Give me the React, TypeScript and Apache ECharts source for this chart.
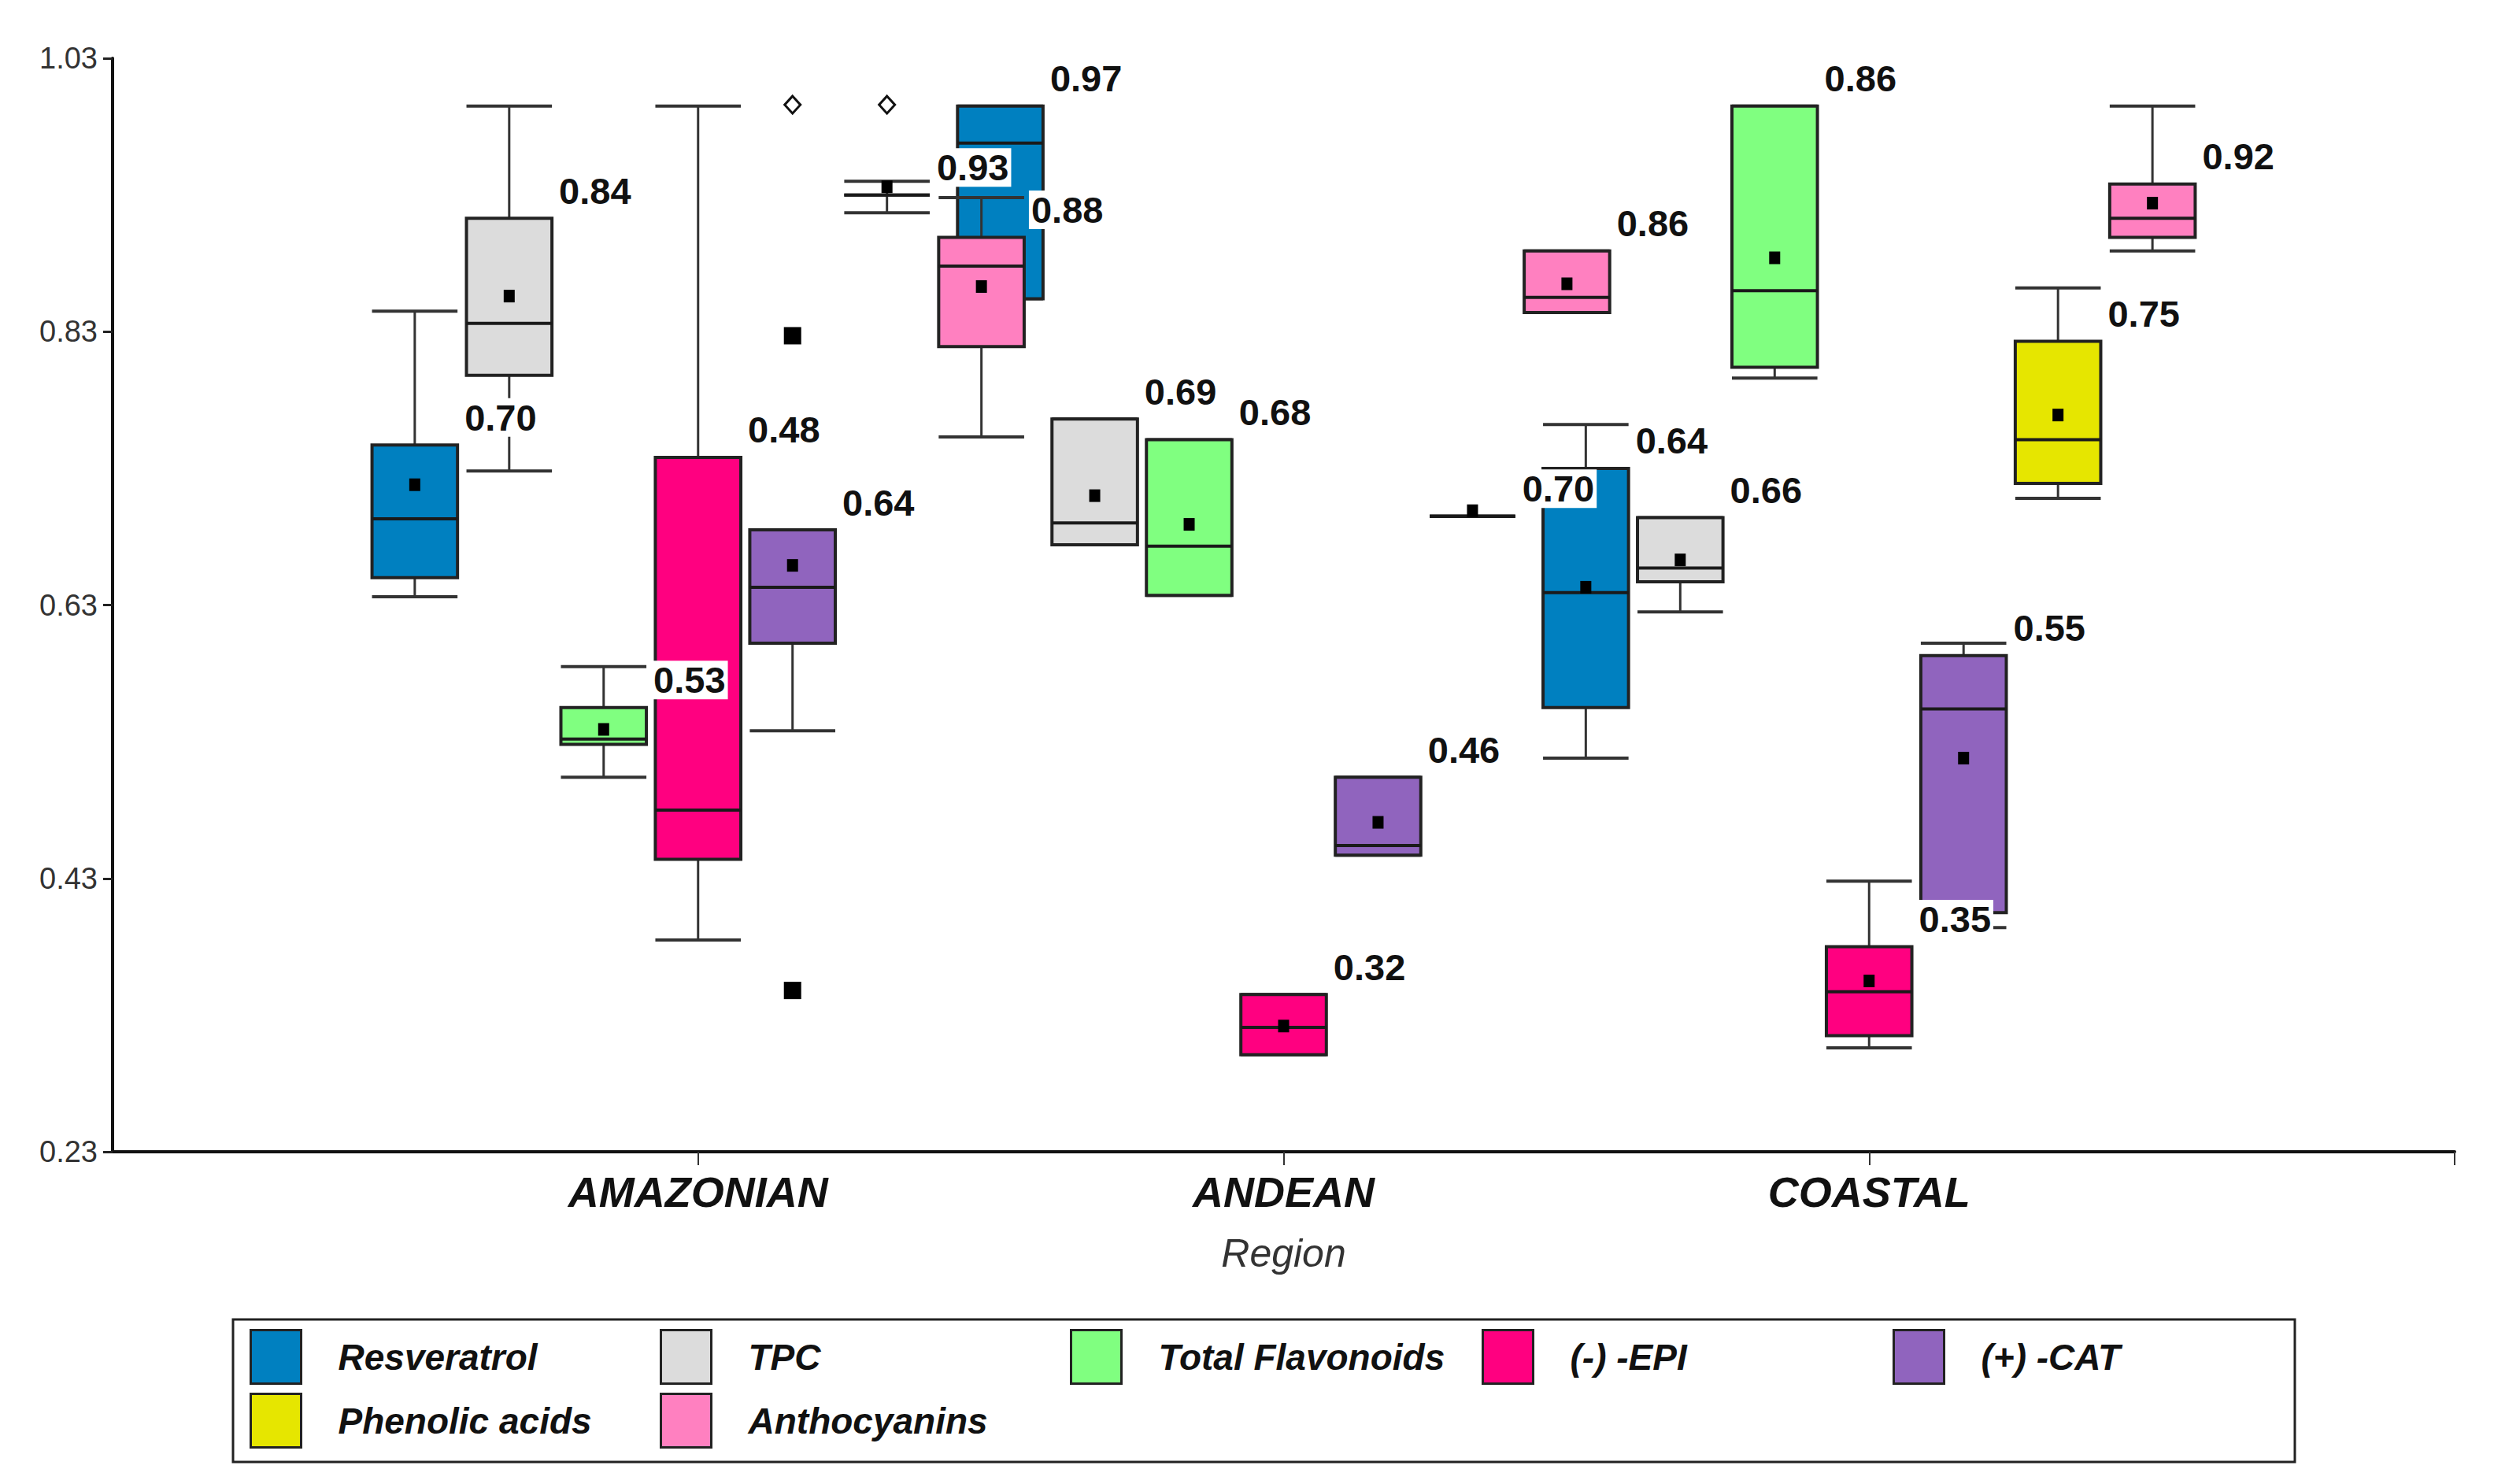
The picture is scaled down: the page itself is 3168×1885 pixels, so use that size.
import React, { useEffect, useRef } from "react";
import * as echarts from "echarts";

const REGIONS = ["AMAZONIAN", "ANDEAN", "COASTAL"];
const Y_TICKS = [0.23, 0.43, 0.63, 0.83, 1.03];
const X_TICKS = [1, 2, 3, 4];
const X_LABELS = [1, 2, 3];

const SERIES_NAMES = ["Resveratrol", "TPC", "Total Flavonoids", "(-) -EPI", "(+) -CAT", "Phenolic acids", "Anthocyanins"];
const COLORS = ["#0080C0", "#DCDCDC", "#80FF80", "#FF0080", "#9064BE", "#E6E600", "#FF80C0"];

// per region (AMAZONIAN, ANDEAN, COASTAL): [whiskerLow, q1, median, q3, whiskerHigh, mean]
const resveratrol = [
  [0.636, 0.65, 0.693, 0.747, 0.845, 0.718],
  [0.854, 0.854, 0.968, 0.995, 0.995, null],
  [0.518, 0.555, 0.639, 0.73, 0.762, 0.643],
];
const tpc = [
  [0.728, 0.798, 0.836, 0.913, 0.995, 0.856],
  [0.674, 0.674, 0.69, 0.766, 0.766, 0.71],
  [0.625, 0.647, 0.657, 0.694, 0.694, 0.663],
];
const totalFlavonoids = [
  [0.504, 0.528, 0.532, 0.555, 0.585, 0.539],
  [0.637, 0.637, 0.673, 0.751, 0.751, 0.689],
  [0.796, 0.804, 0.86, 0.995, 0.995, 0.884],
];
const epi = [
  [0.385, 0.444, 0.48, 0.738, 0.995, null],
  [0.301, 0.301, 0.321, 0.345, 0.345, 0.322],
  [0.306, 0.315, 0.347, 0.38, 0.428, 0.355],
];
const cat = [
  [0.538, 0.602, 0.643, 0.685, 0.685, 0.659],
  [0.447, 0.447, 0.454, 0.504, 0.504, 0.471],
  [0.394, 0.405, 0.554, 0.593, 0.602, 0.518],
];
const phenolicAcids = [
  [0.917, 0.93, 0.93, 0.93, 0.94, 0.936],
  [0.695, 0.695, 0.695, 0.695, 0.695, 0.699],
  [0.708, 0.719, 0.751, 0.823, 0.862, 0.769],
];
const anthocyanins = [
  [0.753, 0.819, 0.878, 0.899, 0.928, 0.863],
  [0.844, 0.844, 0.855, 0.889, 0.889, 0.865],
  [0.889, 0.899, 0.913, 0.938, 0.995, 0.924],
];

// value labels shown next to each box (AMAZONIAN, ANDEAN, COASTAL)
const resveratrolLabels = ["0.70", "0.97", "0.64"];
const tpcLabels = ["0.84", "0.69", "0.66"];
const totalFlavonoidsLabels = ["0.53", "0.68", "0.86"];
const epiLabels = ["0.48", "0.32", "0.35"];
const catLabels = ["0.64", "0.46", "0.55"];
const phenolicAcidsLabels = ["0.93", "0.70", "0.75"];
const anthocyaninsLabels = ["0.88", "0.86", "0.92"];

// outliers (AMAZONIAN)
const catSquareOutliers = [0.827, 0.348];
const catDiamondOutliers = [0.996];
const phenolicDiamondOutliers = [0.996];

const STATS = [resveratrol, tpc, totalFlavonoids, epi, cat, phenolicAcids, anthocyanins];
const LABELS = [resveratrolLabels, tpcLabels, totalFlavonoidsLabels, epiLabels, catLabels, phenolicAcidsLabels, anthocyaninsLabels];

const SLOT = 0.1613;
const BOX_W = 0.146;
const FONT = '"Liberation Sans", Arial, Helvetica, sans-serif';
const LEGEND_COL_X = [317, 838, 1359, 1882, 2404];
const LEGEND_ROW_Y = [1688, 1769];
const xPos = (r: number, s: number) => r + 1 + (s - 3) * SLOT;

function renderBox(params: any, api: any) {
  const x = api.value(0);
  const low = api.value(1), q1 = api.value(2), med = api.value(3), q3 = api.value(4), high = api.value(5), mean = api.value(6);
  const hw = api.size([BOX_W, 0])[0] / 2;
  const pLow = api.coord([x, low]);
  const pQ1 = api.coord([x, q1]);
  const pMed = api.coord([x, med]);
  const pQ3 = api.coord([x, q3]);
  const pHigh = api.coord([x, high]);
  const cx = pLow[0];
  const color = api.visual("color");
  const wStyle = { stroke: "#333", lineWidth: 3 };
  const children: any[] = [
    { type: "line", shape: { x1: cx, y1: pQ3[1], x2: cx, y2: pHigh[1] }, style: wStyle },
    { type: "line", shape: { x1: cx, y1: pQ1[1], x2: cx, y2: pLow[1] }, style: wStyle },
    { type: "line", shape: { x1: cx - hw, y1: pHigh[1], x2: cx + hw, y2: pHigh[1] }, style: { stroke: "#333", lineWidth: 4 } },
    { type: "line", shape: { x1: cx - hw, y1: pLow[1], x2: cx + hw, y2: pLow[1] }, style: { stroke: "#333", lineWidth: 4 } },
    {
      type: "rect",
      shape: { x: cx - hw, y: pQ3[1], width: hw * 2, height: pQ1[1] - pQ3[1] },
      style: { fill: color, stroke: "#222", lineWidth: 4 },
    },
    { type: "line", shape: { x1: cx - hw, y1: pMed[1], x2: cx + hw, y2: pMed[1] }, style: { stroke: "#1a1a1a", lineWidth: 4 } },
  ];
  if (isFinite(mean)) {
    const pMean = api.coord([x, mean]);
    children.push({ type: "rect", shape: { x: cx - 7, y: pMean[1] - 8, width: 14, height: 16 }, style: { fill: "#000" } });
  }
  return { type: "group", children };
}

function renderLabel(params: any, api: any) {
  const x = api.value(0);
  const q3 = api.value(1);
  const s = api.value(2);
  const r = api.value(3);
  const hw = api.size([BOX_W, 0])[0] / 2;
  const p = api.coord([x, q3]);
  return {
    type: "text",
    x: p[0] + hw + 6,
    y: p[1] - 35,
    style: {
      text: LABELS[s][r],
      fill: "#111",
      fontSize: 47,
      fontWeight: "bold",
      fontFamily: FONT,
      align: "left",
      verticalAlign: "middle",
      backgroundColor: "#fff",
      padding: [1, 3],
    },
  };
}

export default function App() {
  const ref = useRef<HTMLDivElement>(null);
  useEffect(() => {
    if (!ref.current) return;
    const chart = echarts.init(ref.current, null, { renderer: "svg" });
    const boxSeries = SERIES_NAMES.map((name, s) => ({
      type: "custom",
      name,
      itemStyle: { color: COLORS[s], borderColor: "#222", borderWidth: 3 },
      encode: { x: 0, y: [1, 2, 3, 4, 5] },
      data: STATS[s].map((st, r) => [xPos(r, s), ...st.map((v) => (v === null ? "-" : v))]),
      renderItem: renderBox,
      z: 2,
    }));
    const labelData: any[] = [];
    STATS.forEach((st, s) => st.forEach((row, r) => labelData.push([xPos(r, s), row[3], s, r])));
    const legends = SERIES_NAMES.map((name, i) => ({
      data: [name],
      left: LEGEND_COL_X[i % 5],
      top: LEGEND_ROW_Y[Math.floor(i / 5)],
      padding: 0,
      itemWidth: 64,
      itemHeight: 68,
      icon: "rect",
      selectedMode: false,
      itemStyle: { borderColor: "#222", borderWidth: 3 },
      textStyle: {
        fontSize: 46,
        fontWeight: "bold",
        fontStyle: "italic",
        color: "#111",
        padding: [0, 0, 0, 42],
        fontFamily: FONT,
      },
    }));
    const option: any = {
      animation: false,
      backgroundColor: "#fff",
      textStyle: { fontFamily: FONT },
      grid: { left: 143, right: 50, top: 74, bottom: 422 },
      graphic: [
        {
          type: "rect",
          shape: { x: 296, y: 1676, width: 2619, height: 181 },
          style: { fill: "none", stroke: "#222", lineWidth: 3 },
          silent: true,
        },
      ],
      xAxis: {
        type: "value",
        min: 0,
        max: 4,
        name: "Region",
        nameLocation: "middle",
        nameGap: 104,
        nameTextStyle: { fontSize: 50, fontStyle: "italic", color: "#333", fontFamily: FONT },
        axisLine: { lineStyle: { color: "#111", width: 4 } },
        axisTick: { customValues: X_TICKS, length: 17, lineStyle: { color: "#333", width: 2 } },
        axisLabel: {
          customValues: X_LABELS,
          formatter: (v: number) => REGIONS[Math.round(v) - 1] || "",
          fontSize: 54,
          fontWeight: "bold",
          fontStyle: "italic",
          color: "#111",
          margin: 24,
          fontFamily: FONT,
        },
        splitLine: { show: false },
      },
      yAxis: {
        type: "value",
        min: 0.23,
        max: 1.03,
        axisLine: { show: true, lineStyle: { color: "#111", width: 4 } },
        axisTick: { show: true, customValues: Y_TICKS, length: 12, lineStyle: { color: "#222", width: 3 } },
        axisLabel: {
          customValues: Y_TICKS,
          formatter: (v: number) => v.toFixed(2),
          fontSize: 38,
          color: "#333",
          margin: 19,
          fontFamily: FONT,
        },
        splitLine: { show: false },
      },
      legend: legends,
      series: [
        ...boxSeries,
        {
          type: "scatter",
          name: "outliers-square",
          symbol: "rect",
          symbolSize: 22,
          itemStyle: { color: "#000", opacity: 1 },
          data: catSquareOutliers.map((v) => [xPos(0, 4), v]),
          z: 3,
        },
        {
          type: "scatter",
          name: "outliers-diamond",
          symbol: "diamond",
          symbolSize: [20, 22],
          itemStyle: { color: "#fff", borderColor: "#111", borderWidth: 3, opacity: 1 },
          data: [...catDiamondOutliers.map((v) => [xPos(0, 4), v]), ...phenolicDiamondOutliers.map((v) => [xPos(0, 5), v])],
          z: 3,
        },
        {
          type: "custom",
          name: "labels",
          encode: { x: 0, y: 1 },
          data: labelData,
          renderItem: renderLabel,
          z: 10,
        },
      ],
    };
    chart.setOption(option);
    return () => chart.dispose();
  }, []);
  return <div ref={ref} style={{ position: "absolute", left: 0, top: 0, width: 3168, height: 1885 }} />;
}
